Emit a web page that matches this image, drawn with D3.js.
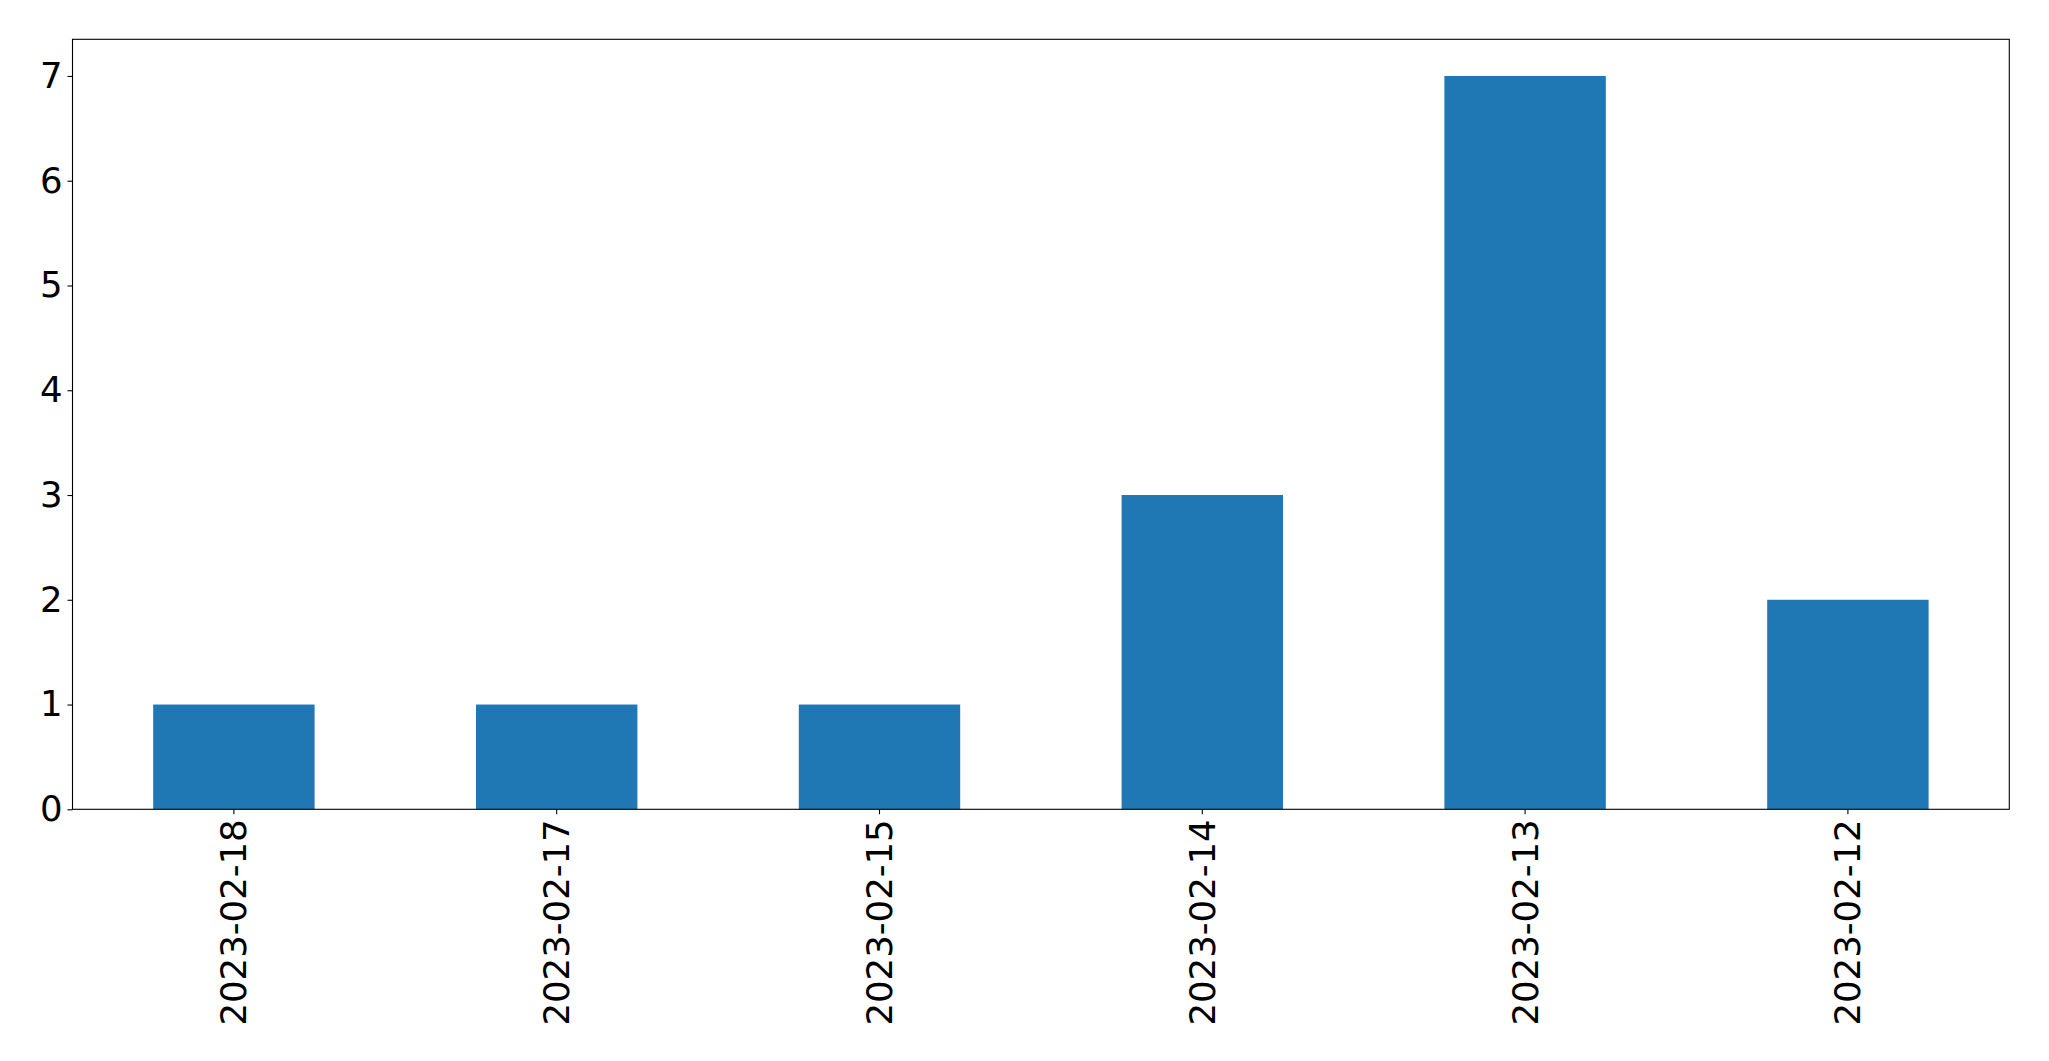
<!DOCTYPE html>
<html><head><meta charset="utf-8">
<script src="https://cdn.jsdelivr.net/npm/d3@7"></script>
<style>body{margin:0;background:#fff}svg{display:block}</style>
</head><body>
<script>
const categories = ["2023-02-18","2023-02-17","2023-02-15","2023-02-14","2023-02-13","2023-02-12"];
const values = [1,1,1,3,7,2];
const yTicks = [0,1,2,3,4,5,6,7];

const W = 2049, H = 1061;
const m = {left:72.5, right:2049-2009.3, top:39.3, bottom:1061-809.3};
const svg = d3.select("body").append("svg").attr("width",W).attr("height",H);
const iw = W-m.left-m.right, ih = H-m.top-m.bottom;
const g = svg.append("g").attr("transform",`translate(${m.left},${m.top})`);

const x = d3.scaleBand().domain(categories).range([0,iw]).paddingInner(0.5).paddingOuter(0.25);
const y = d3.scaleLinear().domain([0,7.35]).range([ih,0]);

g.selectAll("rect.bar").data(values).join("rect")
  .attr("x",(d,i)=>x(categories[i])).attr("width",x.bandwidth())
  .attr("y",d=>y(d)).attr("height",d=>ih-y(d)).attr("fill","#1f77b4");

const font = "DejaVu Sans, sans-serif";
const ya = g.append("g").call(d3.axisLeft(y).tickValues(yTicks).tickFormat(d3.format("d")).tickSize(5).tickPadding(5));
const xa = g.append("g").attr("transform",`translate(0,${ih})`).call(d3.axisBottom(x).tickSize(5).tickPadding(5));
[ya,xa].forEach(a=>{a.select(".domain").remove();a.selectAll("line").attr("stroke","#000").attr("stroke-width",1.1);
  a.selectAll("text").attr("font-family",font).attr("font-size",35.5).attr("fill","#000");});
xa.selectAll("text").attr("transform","rotate(-90)").attr("text-anchor","end")
  .attr("dy","0.35em").attr("x",-10).attr("y",0);

g.append("rect").attr("x",0).attr("y",0).attr("width",iw).attr("height",ih)
  .attr("fill","none").attr("stroke","#000").attr("stroke-width",1.1);
</script>
</body></html>
